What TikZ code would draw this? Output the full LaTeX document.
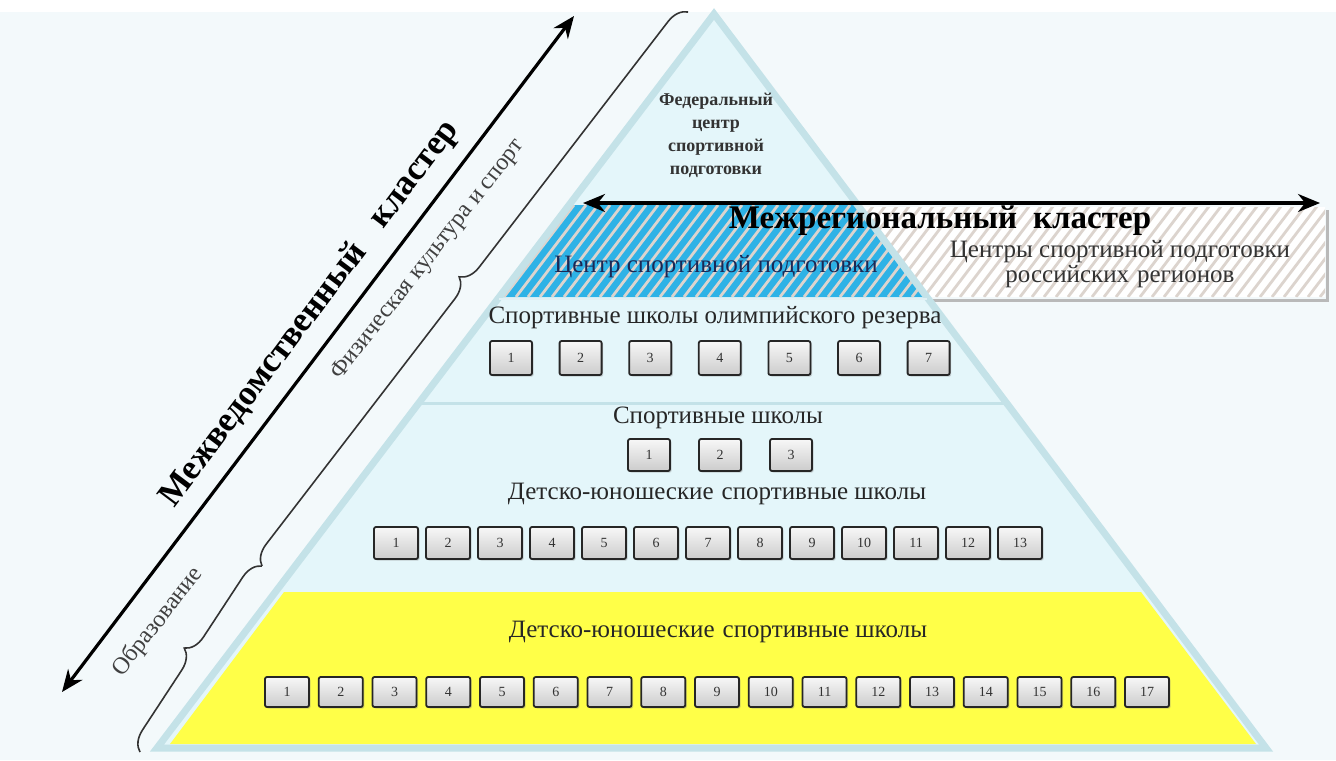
\documentclass[tikz,border=0pt]{standalone}
\usepackage{fontspec}
\setmainfont{Liberation Serif}
\usepackage{tikz}
\usetikzlibrary{positioning, arrows.meta, decorations.pathreplacing, shadows}

\definecolor{bgblue}{RGB}{243,249,251}
\definecolor{pyrfill}{RGB}{228,246,250}
\definecolor{pyredge}{RGB}{196,226,232}
\definecolor{hatchblue}{RGB}{46,178,230}
\definecolor{hatchline}{RGB}{220,212,206}
\definecolor{baseyellow}{RGB}{255,255,72}
\definecolor{navytext}{RGB}{28,40,84}

\tikzset{
	numbox/.append style={
		draw=black!85,
		line width=0.9pt,
		rounded corners=1pt,
		top color=gray!6,
		bottom color=gray!40,
		minimum width=21pt,
		minimum height=16pt,
		inner sep=0pt,
		font=\fontsize{7}{8}\selectfont,
		text=black!80,
		drop shadow={shadow xshift=0.8pt, shadow yshift=-0.8pt, opacity=0.35}
	},
	capt/.append style={
		font=\fontsize{12.5}{12.5}\selectfont,
		text=black!85,
		inner sep=0pt
	},
	bigcapt/.append style={
		font=\bfseries\fontsize{16.5}{20}\selectfont,
		text=black,
		inner sep=0pt
	},
	diaglabel/.append style={
		font=\fontsize{12}{14}\selectfont,
		text=black!75,
		rotate=52,
		inner sep=0pt
	},
	cluster/.append style={
		line width=1.6pt,
		{Stealth[length=11pt,width=9pt]}-{Stealth[length=11pt,width=9pt]}
	},
	curly/.append style={
		decorate,
		decoration={brace, amplitude=10pt},
		line width=0.8pt,
		draw=black!80
	}
}

\begin{document}
\begin{tikzpicture}[x=0.5pt, y=-0.5pt]
\useasboundingbox (0,0) rectangle (1336,760);
\fill[bgblue] (0,0) rectangle (1336,760);
\fill[white] (0,0) rectangle (1336,12);

% pyramid
\coordinate (apex) at (714,14);
\coordinate (bl) at (157,748);
\coordinate (br) at (1266,748);
\fill[pyrfill] (apex) -- (br) -- (bl) -- cycle;

% interregional band, hatched
\fill[white] (850,207) rectangle (1325,297);
\fill[hatchblue] (569,205) -- (858,205) -- (927,297) -- (499,297) -- cycle;
\begin{scope}
	\clip (569,205) -- (858,205) -- (860,207) -- (1325,207) -- (1325,297) -- (499,297) -- cycle;
	\foreach \x in {420,432,...,1340}
		\draw[hatchline, line width=1.4pt] (\x,297) -- ++(70,-92);
\end{scope}
\draw[gray!55, line width=1.5pt] (932,300) -- (1327,300) -- (1327,210);

% yellow base
\fill[baseyellow] (284,592) -- (1141,592) -- (1256,744) -- (170,744) -- cycle;

\draw[pyredge, line width=3.5pt] (apex) -- (br) -- (bl) -- cycle;
\draw[pyredge, line width=1.5pt] (419,403) -- (1007,403);
\draw[white!50!pyredge, line width=1pt] (499,299) -- (927,299);

% texts
\node (fed) [font=\bfseries\fontsize{9}{11.5}\selectfont, align=center, text=black!80] at (716,135) {Федеральный\\центр\\спортивной\\подготовки};
\node (ireg) [bigcapt] at (940,221) {Межрегиональный\hspace{8pt}кластер};
\node (csp) [capt, text=navytext] at (716,267) {Центр спортивной подготовки};
\node (csprf) [capt, align=center, text=black!80] at (1120,264) {Центры спортивной подготовки\\российских\hspace{4pt}регионов};

\node (olycap) [capt] at (715,318) {Спортивные школы олимпийского резерва};
\foreach \i in {1,...,7}
	\node (oly-\i) [numbox, minimum height=17pt] at ({511+69.6*(\i-1)},358) {\i};

\node (sscap) [capt] at (718,418) {Спортивные школы};
\foreach \i in {1,2,3}
	\node (ss-\i) [numbox] at ({649+71*(\i-1)},455) {\i};

\node (dyucap) [capt] at (717,494) {Детско-юношеские\hspace{4pt}спортивные школы};
\foreach \i in {1,...,13}
	\node (dyu-\i) [numbox, minimum width=22pt] at ({396+52*(\i-1)},543) {\i};

\node (yelcap) [capt] at (718,632) {Детско-юношеские\hspace{4pt}спортивные школы};
\foreach \i in {1,...,17}
	\node (yel-\i) [numbox, minimum width=22pt, minimum height=15pt] at ({287+53.75*(\i-1)},692) {\i};

% clusters
\coordinate (ia-l) at (583,203);
\coordinate (ia-r) at (1320,203);
\draw[cluster] (ia-l) -- (ia-r);

\coordinate (da-lo) at (62,692);
\coordinate (da-hi) at (574,16);
\draw[cluster] (da-lo) -- (da-hi);
\node (idep) [bigcapt, font=\bfseries\fontsize{17.5}{20}\selectfont, rotate=53] at (310,314) {Межведомственный\hspace{14pt}кластер};

% braces
\coordinate (br-top) at (688,12);
\coordinate (br-mid) at (262,566);
\coordinate (br-bot) at (140,752);
\draw[curly] (br-mid) -- (br-top);
\draw[curly] (br-bot) -- (br-mid);
\node (fks) [diaglabel] at (428,260) {Физическая культура и спорт};
\node (obr) [diaglabel] at (158,622) {Образование};

\end{tikzpicture}
\end{document}
